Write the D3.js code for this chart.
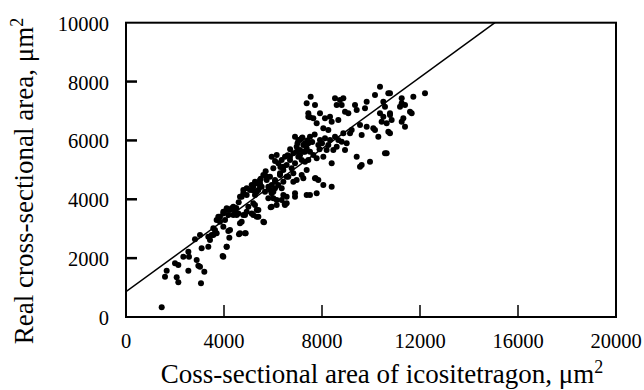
<!DOCTYPE html>
<html><head><meta charset="utf-8">
<script src="https://cdn.jsdelivr.net/npm/d3@7/dist/d3.min.js"></script>
<style>body{margin:0;background:#fff}svg{display:block}text{font-family:"Liberation Serif","Times New Roman",serif;fill:#000}</style>
</head><body>
<svg id="c" width="644" height="390"></svg>
<script>
const xTicks = [0, 4000, 8000, 12000, 16000, 20000];
const yTicks = [0, 2000, 4000, 6000, 8000, 10000];
const xTitle = "Coss-sectional area of icositetragon, μm";
const yTitle = "Real cross-sectional area, μm";
const lineX = [0, 15060];
const lineY = [860, 10000];
const ptsX = [1457,1660,1592,2069,2136,2000,2136,2340,2545,2571,2545,2885,2953,3020,3197,3061,3088,2816,3020,3360,3428,3360,3564,3700,3632,3945,4109,4218,4177,3972,3836,3768,3972,4109,4313,4449,4585,4721,4612,4885,4381,4857,4993,5130,5197,5334,5402,5633,4653,4789,4925,5130,5265,5334,5469,5742,5946,6014,5905,6150,6477,6082,6286,6218,5946,6150,6422,6558,6830,6694,6898,7102,7306,7442,7374,7537,7714,7646,6898,7374,7782,7741,7238,7170,6966,7238,
7442,7510,7918,7782,8122,8327,8531,8735,8871,8599,8803,8939,9075,8667,8395,8258,8054,9347,9416,9823,9755,10163,10367,10503,10571,10775,10367,10503,10775,10843,10639,10435,11253,11388,11728,12204,11660,11320,11388,11253,10095,10163,10299,10775,9823,9551,9619,9143,9211,8871,9007,8939,8803,9416,9619,9551,9959,10571,8395,8054,8463,8599,8258,8190,8122,8327,8531,8667,7918,7850,7510,7442,7374,7170,7034,7238,7102,7306,7510,7646,6966,6830,7034,6694,6898,6762,6558,7306,7442,7782,7374,6490,6354,6082,6014,6422,6286,6626,6830,6966,7170,5878,5742,5605,5469,5334,6082,6218,6354,6082,5878,6422,5810,5946,5673,5810,6014,6422,6558,6898,7510,8054,8395,7714,7850,6558,6490,6150,5946,6354,5469,5197,5061,4925,4789,4721,5265,5402,5538,5265,5334,5197,5402,5605,4381,4245,4109,3972,3836,3700,4041,4177,4517,4653,4789,4925,4857,4653,4245,3564,3496,3632,4109,3972,
11592,11184,11253,10707,10775,10707,10639,
7000,7200,7400,7600,7700,6700,6600,7900,8000,7100,6300,5700,5500,5200,4600,4500];
const ptsY = [330,1573,1370,1349,1179,1825,1767,2049,2219,2049,1573,1937,1743,1709,1539,1145,2334,2640,2786,2389,2616,2729,2786,2844,2956,2073,2389,2695,2922,3068,3238,3408,3521,3636,3694,3578,3521,3238,2810,2844,3466,3466,3748,3521,3863,3408,3636,3218,4088,4316,4146,4486,4598,4258,4428,4768,4486,4258,3728,3976,3840,4655,4883,5223,5447,5505,5107,4768,4598,5447,6127,6015,5902,6806,7262,7486,7204,6752,4088,4146,4202,4713,4713,5335,5617,5617,
6922,6786,6922,6582,6752,6806,7431,7374,7431,7204,7204,6976,6922,6694,6636,6354,6412,7204,7034,7316,7092,7544,7826,7316,7146,7601,6922,6806,6922,6694,6582,6636,7431,7204,7486,7601,6922,6752,6467,6636,6412,6354,6127,6241,6467,6524,6184,6241,6354,6241,5902,5675,5958,5447,5165,5107,5277,5562,5223,5447,5675,5788,5845,5675,6072,6015,6127,6015,6015,5845,6127,5902,5732,6072,6015,5845,5675,5617,5617,5505,5788,5562,5447,5335,5223,5053,5165,5277,5335,5392,4995,5447,5335,5300,5053,4995,4826,4768,4883,4655,4826,4768,4655,4826,4655,4541,4598,4486,4371,4371,4316,4598,4428,4203,4258,4033,4033,4146,4088,4203,4146,4486,4428,4713,4655,3863,3806,3806,3748,3976,4541,4428,4316,4373,4203,4088,4146,4316,4428,3806,3636,3466,3408,3238,3748,3636,3694,3578,3408,3296,3296,3466,3466,3184,3466,3578,2844,2844,2956,3014,2786,2844,2389,2049,
6976,7146,7262,7601,6864,6298,5562,
5900,6100,6000,5950,6200,5700,5500,5700,5900,5500,5100,4950,4700,4300,3900,3700];

const svg = d3.select("#c");
const L=126, R=616, T=22.7, B=317;
const x = d3.scaleLinear().domain([0,20000]).range([L,R]);
const y = d3.scaleLinear().domain([0,10000]).range([B,T]);

svg.append("clipPath").attr("id","clip").append("rect").attr("x",L).attr("y",T).attr("width",R-L).attr("height",B-T);

// fit line
svg.append("line").attr("clip-path","url(#clip)")
  .attr("x1",x(lineX[0])).attr("y1",y(lineY[0])).attr("x2",x(lineX[1])).attr("y2",y(lineY[1]))
  .attr("stroke","#000").attr("stroke-width",1.5);

// points
svg.append("g").selectAll("circle").data(d3.range(ptsX.length)).join("circle")
  .attr("cx",i=>x(ptsX[i])).attr("cy",i=>y(ptsY[i])).attr("r",3).attr("fill","#000");

// frame
svg.append("rect").attr("x",L).attr("y",T).attr("width",R-L).attr("height",B-T)
  .attr("fill","none").attr("stroke","#000").attr("stroke-width",2);

// y ticks (inward)
svg.append("g").selectAll("line").data(yTicks.filter(v=>v>0&&v<10000)).join("line")
  .attr("x1",L).attr("x2",L+11).attr("y1",d=>y(d)).attr("y2",d=>y(d))
  .attr("stroke","#000").attr("stroke-width",2.5);
// x ticks (inward)
svg.append("g").selectAll("line").data(xTicks.filter(v=>v>0&&v<20000)).join("line")
  .attr("x1",d=>x(d)).attr("x2",d=>x(d)).attr("y1",B).attr("y2",B-12)
  .attr("stroke","#000").attr("stroke-width",1.5);

// tick labels
svg.append("g").selectAll("text").data(yTicks).join("text")
  .attr("x",L-17).attr("y",d=>y(d)+8).attr("text-anchor","end")
  .style("font-size","20.5px").text(d=>d);
svg.append("g").selectAll("text").data(xTicks).join("text")
  .attr("x",d=>x(d)).attr("y",348).attr("text-anchor","middle")
  .style("font-size","20.5px").text(d=>d);

// titles
const xt = svg.append("text").attr("x",382).attr("y",383).attr("text-anchor","middle").style("font-size","27px");
xt.append("tspan").text(xTitle);
xt.append("tspan").attr("dy","-0.55em").style("font-size","18px").text("2");

const yt = svg.append("text").attr("transform","translate(33,181) rotate(-90)").attr("text-anchor","middle").style("font-size","27px");
yt.append("tspan").text(yTitle);
yt.append("tspan").attr("dy","-0.55em").style("font-size","18px").text("2");
</script>
</body></html>
